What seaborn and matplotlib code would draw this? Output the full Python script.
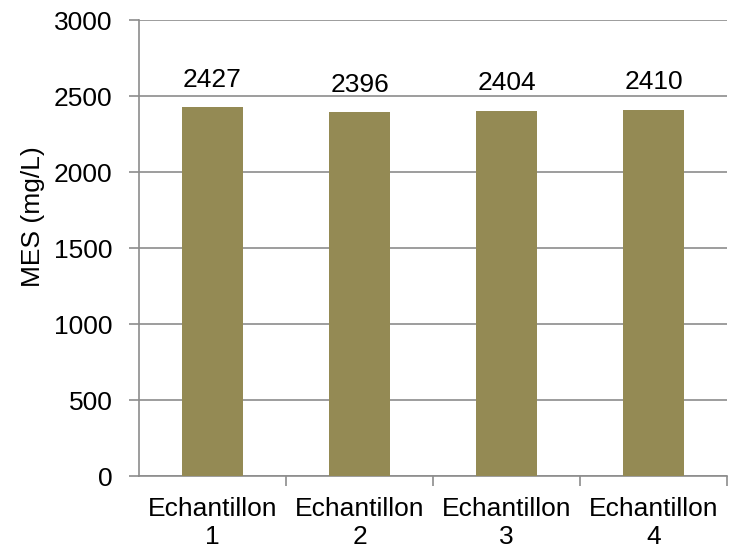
import matplotlib
matplotlib.use("Agg")
import matplotlib.pyplot as plt
import seaborn as sns
import pandas as pd

categories = ["Echantillon\n1", "Echantillon\n2", "Echantillon\n3", "Echantillon\n4"]
mes_values = [2427, 2396, 2404, 2410]
y_ticks = [0, 500, 1000, 1500, 2000, 2500, 3000]

sns.set_theme(style="white")
plt.rcParams["font.family"] = ["Liberation Sans", "DejaVu Sans"]
plt.rcParams["text.color"] = "black"
plt.rcParams["axes.labelcolor"] = "black"

FS = 19

df = pd.DataFrame({"cat": categories, "mes": mes_values})

fig = plt.figure(figsize=(7.3, 5.5), dpi=100)
ax = fig.add_axes([139 / 730, 1 - 476 / 550, 588 / 730, 456 / 550])

sns.barplot(data=df, x="cat", y="mes", color="#948A54", saturation=1,
            width=0.41, ax=ax, zorder=3, edgecolor="none", linewidth=0)

ax.set_ylim(0, 3000)
ax.set_xlim(-0.5, 3.5)
ax.set_yticks(y_ticks)
ax.yaxis.grid(True, color="#8C8C8C", linewidth=1.2, zorder=0)
ax.set_axisbelow(True)

for side in ["top", "right"]:
    ax.spines[side].set_visible(False)
for side in ["left", "bottom"]:
    ax.spines[side].set_color("#8C8C8C")
    ax.spines[side].set_linewidth(1.2)

# category boundaries as bottom ticks, labels centred between
ax.set_xticks([0.5, 1.5, 2.5, 3.5])
ax.set_xticklabels([])
ax.set_xticks([0, 1, 2, 3], minor=True)
ax.set_xticklabels(categories, minor=True, fontsize=FS, linespacing=1.2)
ax.tick_params(axis="x", which="major", bottom=True, length=7, width=1.2,
               color="#8C8C8C", direction="out")
ax.tick_params(axis="x", which="minor", bottom=True, length=0, pad=15,
               labelcolor="black")
ax.tick_params(axis="y", left=True, length=7, width=1.2, color="#8C8C8C",
               direction="out", labelsize=FS, pad=12, labelcolor="black")

ax.set_xlabel("")
ax.set_ylabel("")
fig.text(33 / 730, 1 - 217 / 550, "MES (mg/L)", rotation=90, ha="center",
         va="center", fontsize=FS, color="black")

for i, v in enumerate(mes_values):
    ax.annotate(str(v), (i, v), xytext=(0, 11), textcoords="offset points",
                ha="center", va="bottom", fontsize=FS, color="black")

fig.savefig("out.png", dpi=100)
